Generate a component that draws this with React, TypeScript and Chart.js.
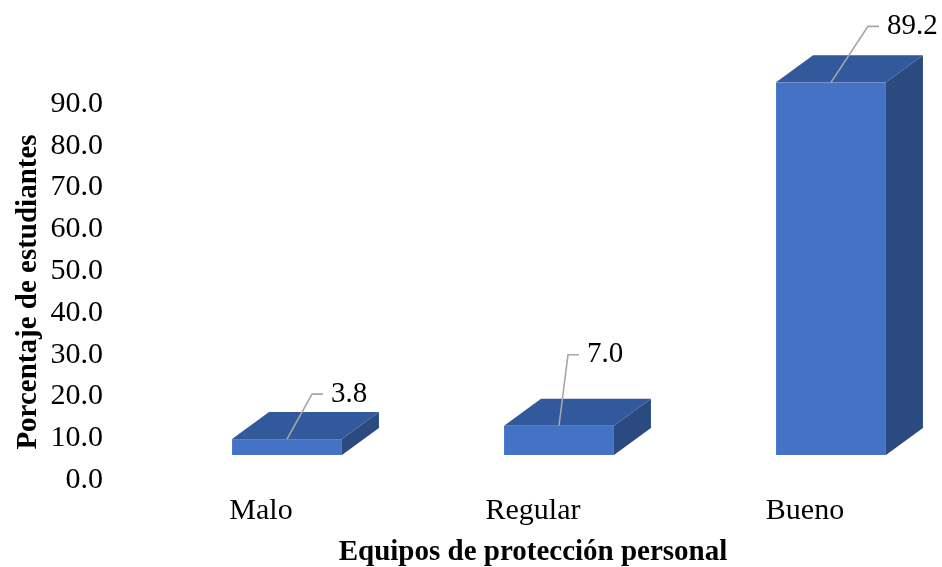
import React, { useEffect, useRef } from "react";
import { Chart, registerables } from "chart.js";

Chart.register(...registerables);

const categories = ["Malo", "Regular", "Bueno"];
const values = [3.8, 7.0, 89.2];
const yMin = 0;
const yMax = 90;
const yStep = 10;
const xTitle = "Equipos de protección personal";
const yTitle = "Porcentaje de estudiantes";

// styling
const FRONT = "#4472C4";
const TOP = "#31599C";
const SIDE = "#2B4A80";
const LEADER = "#A6A6A6";
const FONT = "'Liberation Serif', 'Times New Roman', serif";
const FRONT_SHIFT = { dx: 26, dy: -25 };
const DEPTH = { dx: 37, dy: -27 };
const labelOffsets = [
  [25, -45],
  [9, -71],
  [37, -56],
];

const bar3d = {
  id: "bar3d",
  afterDatasetsDraw(chart: any) {
    const ctx = chart.ctx;
    const meta = chart.getDatasetMeta(0);
    meta.data.forEach((el: any, i: number) => {
      const { x, y, base, width } = el.getProps(["x", "y", "base", "width"], true);
      const l = x - width / 2 + FRONT_SHIFT.dx;
      const r = x + width / 2 + FRONT_SHIFT.dx;
      const t = y + FRONT_SHIFT.dy;
      const b = base + FRONT_SHIFT.dy;
      ctx.save();
      // side
      ctx.fillStyle = SIDE;
      ctx.beginPath();
      ctx.moveTo(r, t);
      ctx.lineTo(r + DEPTH.dx, t + DEPTH.dy);
      ctx.lineTo(r + DEPTH.dx, b + DEPTH.dy);
      ctx.lineTo(r, b);
      ctx.closePath();
      ctx.fill();
      // top
      ctx.fillStyle = TOP;
      ctx.beginPath();
      ctx.moveTo(l, t);
      ctx.lineTo(r, t);
      ctx.lineTo(r + DEPTH.dx, t + DEPTH.dy);
      ctx.lineTo(l + DEPTH.dx, t + DEPTH.dy);
      ctx.closePath();
      ctx.fill();
      // front
      ctx.fillStyle = FRONT;
      ctx.fillRect(l, t, r - l, b - t);

      // leader line + label
      const fx = (l + r) / 2;
      const fy = t;
      const [ex, ey] = labelOffsets[i];
      ctx.strokeStyle = LEADER;
      ctx.lineWidth = 1.6;
      ctx.beginPath();
      ctx.moveTo(fx, fy);
      ctx.lineTo(fx + ex, fy + ey);
      ctx.lineTo(fx + ex + 11, fy + ey);
      ctx.stroke();
      ctx.fillStyle = "#000";
      ctx.font = `29px ${FONT}`;
      ctx.textAlign = "left";
      ctx.textBaseline = "middle";
      ctx.fillText(values[i].toFixed(1), fx + ex + 19, fy + ey);
      ctx.restore();
    });
  },
};

export default function App() {
  const ref = useRef<HTMLCanvasElement>(null);
  useEffect(() => {
    if (!ref.current) return;
    const chart = new Chart(ref.current, {
      type: "bar",
      data: {
        labels: categories,
        datasets: [
          {
            data: values,
            backgroundColor: "rgba(0,0,0,0)",
            borderWidth: 0,
            categoryPercentage: 1,
            barPercentage: 0.404,
          },
        ],
      },
      options: {
        animation: false,
        responsive: false,
        layout: { padding: { top: 104, right: 1, bottom: 0, left: 0 } },
        plugins: { legend: { display: false }, tooltip: { enabled: false } },
        scales: {
          x: {
            grid: { display: false, drawTicks: false },
            border: { display: false },
            ticks: {
              color: "#000",
              padding: 13,
              font: { family: FONT, size: 30 },
            },
            title: {
              display: true,
              text: xTitle,
              color: "#000",
              padding: { top: 0, bottom: 0 },
              font: { family: FONT, size: 29, weight: "bold", lineHeight: 1 },
            },
            afterFit: (s: any) => {
              s.height = 87;
            },
          },
          y: {
            min: yMin,
            max: yMax,
            grid: { display: false, drawTicks: false },
            border: { display: false },
            ticks: {
              stepSize: yStep,
              color: "#000",
              padding: 22,
              font: { family: FONT, size: 30 },
              callback: (v: any) => Number(v).toFixed(1),
            },
            title: {
              display: true,
              text: yTitle,
              color: "#000",
              padding: { top: 14, bottom: 0 },
              font: { family: FONT, size: 29, weight: "bold", lineHeight: 1 },
            },
            afterFit: (s: any) => {
              s.width = 125;
            },
          },
        },
      },
      plugins: [bar3d],
    });
    return () => chart.destroy();
  }, []);
  return (
    <div style={{ position: "fixed", left: 0, top: 0, width: 942, height: 567, background: "#fff" }}>
      <canvas ref={ref} width={942} height={567} style={{ display: "block" }} />
    </div>
  );
}
